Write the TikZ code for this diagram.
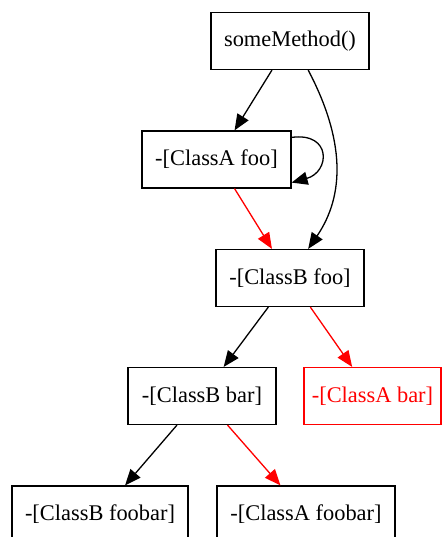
\documentclass[tikz,border=0pt]{standalone}
\usepackage{fontspec}
\setmainfont{Liberation Serif}
\usetikzlibrary{arrows.meta}
\definecolor{callred}{RGB}{255,0,0}
\tikzset{
  method/.style={draw, line width=1.2pt, rectangle, minimum height=57pt,
    inner sep=0pt, font=\fontsize{22.4pt}{26pt}\selectfont},
  redmethod/.style={method, draw=callred, text=callred},
  call/.style={line width=1.3pt, -{Triangle[length=16pt,width=13pt]}},
  redcall/.style={call, draw=callred, fill=callred}
}
\begin{document}
\begin{tikzpicture}[x=1pt, y=-1pt]
  \useasboundingbox (0,0) rectangle (443,537);
  \clip (0,0) rectangle (443,537);

  \node[method, minimum width=158pt] (sm) at (290,41) {someMethod()};
  \node[method, minimum width=149pt] (af) at (216.5,159.5) {-[ClassA foo]};
  \node[method, minimum width=148pt] (bf) at (290,278) {-[ClassB foo]};
  \node[method, minimum width=148pt] (bb) at (202,396) {-[ClassB bar]};
  \node[redmethod, minimum width=137pt] (ab) at (372.5,396) {-[ClassA bar]};
  \node[method, minimum width=176pt] (bfb) at (100,514.5) {-[ClassB foobar]};
  \node[method, minimum width=178pt] (afb) at (306,514.5) {-[ClassA foobar]};

  \draw[call] (sm) -- (af);
  \draw[call] (sm.-58) .. controls (345,140) and (345,195) .. (bf.58);
  \draw[call] ([yshift=-7pt]af.north east) .. controls (332,132) and (330,172) .. ([yshift=6pt]af.south east);
  \draw[redcall] (af) -- (bf);
  \draw[call] (bf) -- (bb);
  \draw[redcall] (bf) -- (ab);
  \draw[call] (bb) -- (bfb);
  \draw[redcall] (bb) -- (afb);
\end{tikzpicture}
\end{document}
